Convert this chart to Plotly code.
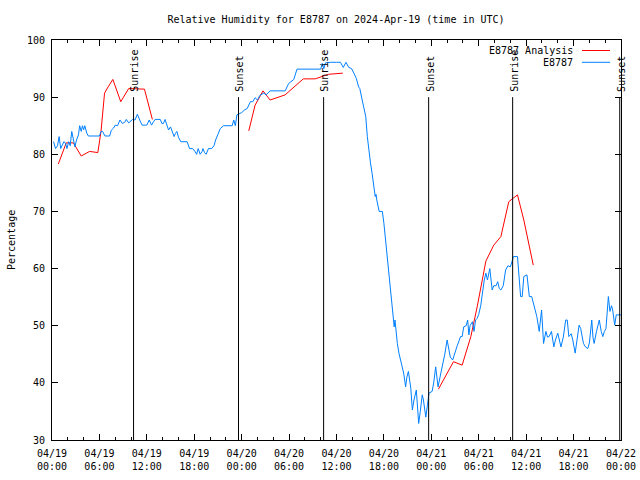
import datetime as dt
import plotly.graph_objects as go

# ---------------- data ----------------
START = dt.datetime(2024, 4, 19, 0, 0)

obs_hours = [0.2, 0.45, 0.7, 0.9, 1.1, 1.3, 1.5, 1.7, 1.9, 2.1, 2.3, 2.5, 2.7, 2.9, 3.1, 3.35, 3.5, 3.7,
             3.85, 4.0, 4.15, 4.4, 4.6, 5.0, 5.5, 6.0, 6.2, 6.4, 6.7, 7.0, 7.3, 7.5, 7.8, 8.0, 8.3, 8.6,
             8.9, 9.2, 9.4, 9.7, 9.9, 10.2, 10.5, 10.8, 11.1, 11.4, 11.8, 12.0, 12.3, 12.6, 12.8, 13.05,
             13.4, 13.7, 13.9, 14.1, 14.3, 14.5, 14.75, 15.0, 15.2, 15.45, 15.6, 15.8, 16.0, 16.3, 16.7,
             17.1, 17.4, 17.8, 18.1, 18.3, 18.5, 18.75, 19.0, 19.1, 19.3, 19.5, 19.8, 20.2, 20.5, 20.7,
             21.0, 21.3, 21.7, 22.2, 22.8, 23.0, 23.2, 23.4, 24.0, 24.4, 24.7, 25.1, 25.4, 25.7, 26.0,
             26.3, 26.8, 27.1, 27.6, 28.5, 29.5, 29.95, 30.3, 30.6, 31.0, 32.0, 33.0, 34.0, 34.2, 34.4,
             34.6, 35.2, 36.0, 36.5, 36.85, 37.2, 37.55, 37.9, 38.2, 38.5, 38.8, 38.95, 39.25, 39.5,
             39.7, 39.9, 40.1, 40.3, 40.5, 40.7, 40.8, 40.9, 41.0, 41.1, 41.4, 41.8, 42.0, 42.2, 42.4,
             42.6, 42.85, 43.05, 43.3, 43.4, 43.5, 43.7, 43.9, 44.1, 44.3, 44.5, 44.75, 44.9, 45.1,
             45.2, 45.4, 45.6, 45.8, 46.1, 46.2, 46.4, 46.6, 46.85, 47.0, 47.3, 47.5, 47.7, 48.1, 48.3,
             48.55, 48.85, 49.1, 49.4, 49.7, 50.0, 50.2, 50.4, 50.7, 51.0, 51.3, 51.7, 51.9, 52.1, 52.4,
             52.6, 52.75, 52.9, 53.2, 53.4, 53.6, 53.8, 54.0, 54.25, 54.45, 54.7, 54.9, 55.1, 55.4,
             55.7, 55.9, 56.2, 56.4, 56.6, 56.8, 57.1, 57.4, 57.7, 58.0, 58.4, 58.9, 59.1, 59.3, 59.5,
             59.7, 60.1, 60.4, 60.7, 61.0, 61.2, 61.35, 61.65, 61.95, 62.2, 62.5, 62.7, 62.9, 63.2,
             63.5, 63.7, 64.0, 64.2, 64.4, 64.7, 65.0, 65.2, 65.4, 65.7, 65.9, 66.2, 66.5, 66.7, 66.9,
             67.25, 67.5, 67.8, 68.0, 68.3, 68.45, 68.6, 68.9, 69.25, 69.5, 69.7, 69.9, 70.1, 70.4,
             70.6, 70.8, 70.95, 71.2, 71.4, 71.6, 72.0]
obs_rh = [82.2, 81.0, 81.5, 83.1, 81.0, 81.8, 82.2, 82.0, 81.0, 82.2, 81.5, 84.0, 82.5, 81.3, 82.5, 83.4,
          85.0, 84.0, 85.0, 84.3, 85.0, 83.7, 83.2, 83.2, 83.2, 83.2, 84.0, 84.0, 83.2, 83.2, 83.2, 84.2,
          84.6, 85.1, 85.0, 86.0, 85.4, 85.6, 86.1, 85.5, 85.7, 86.1, 86.0, 87.0, 86.0, 85.1, 85.1, 85.1,
          86.0, 85.1, 85.6, 86.1, 86.1, 86.1, 85.4, 85.4, 86.1, 85.2, 84.25, 84.8, 84.0, 83.1, 83.6,
          84.0, 83.0, 82.2, 82.2, 82.2, 81.0, 81.0, 80.5, 80.0, 81.0, 80.0, 80.5, 81.0, 80.3, 80.0, 81.0,
          81.0, 81.5, 82.5, 83.5, 84.5, 85.0, 85.0, 85.0, 86.0, 85.0, 86.9, 87.3, 87.8, 88.0, 89.2, 89.2,
          89.9, 89.5, 90.3, 90.7, 90.4, 91.1, 91.1, 91.1, 92.4, 92.8, 93.1, 94.9, 94.9, 94.9, 94.9, 95.9,
          95.0, 96.0, 96.1, 96.1, 96.1, 95.2, 96.1, 95.2, 95.0, 94.2, 93.3, 91.8, 91.5, 89.5, 88.0, 86.6,
          83.1, 80.2, 78.5, 76.7, 74.3, 73.0, 72.6, 73.0, 72.0, 70.0, 70.0, 67.9, 65.0, 61.5, 58.6, 55.7,
          52.2, 49.8, 51.0, 49.5, 46.9, 45.2, 44.0, 43.0, 41.7, 39.3, 41.0, 42.0, 41.0, 39.05, 35.25,
          37.0, 38.75, 36.5, 32.9, 35.0, 37.9, 37.0, 34.0, 36.0, 38.2, 38.5, 40.0, 42.8, 39.3, 41.0, 42.8,
          45.0, 47.5, 46.0, 44.5, 44.0, 45.5, 46.6, 48.1, 48.1, 49.8, 50.0, 51.0, 48.4, 50.0, 50.7, 49.0,
          51.0, 51.3, 52.0, 53.5, 55.7, 58.0, 59.2, 58.0, 60.0, 56.25, 57.0, 57.0, 57.7, 56.5, 56.25,
          57.0, 59.75, 60.5, 60.3, 62.1, 62.1, 59.0, 55.1, 55.1, 58.6, 58.9, 55.1, 55.1, 53.3, 52.0, 51.6,
          49.0, 52.75, 46.9, 49.0, 48.0, 48.1, 49.0, 46.3, 47.5, 48.7, 47.5, 46.3, 48.0, 51.0, 51.0, 48.1,
          48.6, 47.5, 45.2, 48.0, 50.1, 49.5, 46.9, 46.3, 46.0, 47.0, 51.0, 48.0, 46.9, 49.0, 51.0, 49.0,
          48.1, 49.0, 49.5, 55.1, 52.5, 53.5, 52.75, 50.1, 51.9, 51.9, 51.9]

# analysis series (None = gap between analysis runs)
ana_hours = [0.8, 1.8, 2.7, 3.7, 4.75, 5.8, 6.2, 6.65, 7.1, 7.7, 8.7, 9.7, 11.7, 12.7, None,
             24.9, 25.7, 26.7, 27.6, 29.5, 30.7, 31.8, 33.3, 35.0, 36.8, None,
             48.9, 50.8, 51.9, 53.0, 53.8, 54.9, 55.9, 56.8, 57.8, 58.9, 59.7, 60.9]
ana_rh = [78.3, 82.0, 82.0, 79.7, 80.5, 80.3, 84.0, 90.7, 91.8, 93.1, 89.2, 91.5, 91.4, 86.1, None,
          84.1, 88.6, 91.1, 89.5, 90.4, 91.8, 93.2, 93.2, 94.0, 94.2, None,
          38.9, 43.7, 43.1, 48.1, 53.3, 61.3, 64.1, 65.6, 71.7, 72.9, 68.5, 60.6]

sun_hours = [10.32, 23.6, 34.37, 47.66, 58.29, 71.84]
sun_labels = ["Sunrise", "Sunset", "Sunrise", "Sunset", "Sunrise", "Sunset"]
sun_line_top = 90

legend_names = ["E8787 Analysis", "E8787"]
colors = ["#ff0000", "#0080ff"]

title_text = "Relative Humidity for E8787 on 2024-Apr-19 (time in UTC)"
y_title = "Percentage"


def to_time(h):
    return None if h is None else START + dt.timedelta(hours=h)


FONT = "DejaVu Sans Mono"
W, H = 640, 480
ML, MR, MT, MB = 52, 19, 40, 40
PW, PH = W - ML - MR, H - MT - MB

fig = go.Figure()
fig.add_trace(go.Scatter(x=[to_time(h) for h in ana_hours], y=ana_rh, mode="lines",
                         line=dict(color=colors[0], width=1), connectgaps=False,
                         name=legend_names[0], showlegend=False))
fig.add_trace(go.Scatter(x=[to_time(h) for h in obs_hours], y=obs_rh, mode="lines",
                         line=dict(color=colors[1], width=1),
                         name=legend_names[1], showlegend=False))

for h, lab in zip(sun_hours, sun_labels):
    t = to_time(h)
    fig.add_shape(type="line", xref="x", yref="y", x0=t, x1=t, y0=30, y1=sun_line_top,
                  line=dict(color="black", width=1))
    fig.add_annotation(x=t, y=sun_line_top, xref="x", yref="y", text=lab, textangle=-90,
                       showarrow=False, xanchor="center", yanchor="bottom", yshift=3, xshift=1,
                       font=dict(family=FONT, size=10, color="black"))


def px_x(p):
    return (p - ML) / PW


def px_y(p):
    return (H - MB - p) / PH


# manual gnuplot-style legend (text right, line sample to the right)
for i, (name, c) in enumerate(zip(legend_names, colors)):
    ypix = 50.5 + i * 11.8
    fig.add_annotation(x=px_x(575), y=px_y(ypix), xref="paper", yref="paper", text=name,
                       showarrow=False, xanchor="right", yanchor="middle",
                       font=dict(family=FONT, size=10, color="black"))
    fig.add_shape(type="line", xref="paper", yref="paper", x0=px_x(582), x1=px_x(610),
                  y0=px_y(ypix), y1=px_y(ypix), line=dict(color=c, width=1))

fig.add_annotation(x=px_x(11), y=px_y(240), xref="paper", yref="paper", text=y_title,
                   textangle=-90, showarrow=False, xanchor="center", yanchor="middle",
                   font=dict(family=FONT, size=10, color="black"))

fig.update_layout(
    width=W, height=H,
    margin=dict(l=ML, r=MR, t=MT, b=MB, pad=0, autoexpand=False),
    paper_bgcolor="white", plot_bgcolor="white",
    font=dict(family=FONT, size=10, color="black"),
    title=dict(text=title_text, x=336 / W, xanchor="center", y=1 - 19 / H, yanchor="middle",
               yref="container", font=dict(family=FONT, size=10, color="black")),
    showlegend=False,
)
fig.update_xaxes(
    type="date", range=[START, START + dt.timedelta(hours=72)], automargin=False,
    tick0=START, dtick=6 * 3600 * 1000, tickformat="%m/%d<br>%H:%M",
    ticks="inside", ticklen=6, tickcolor="black", tickwidth=1,
    minor=dict(dtick=2 * 3600 * 1000, ticks="inside", ticklen=3, tickcolor="black", showgrid=False),
    showline=True, linecolor="black", linewidth=1, mirror="ticks",
    showgrid=False, zeroline=False, tickfont=dict(family=FONT, size=10, color="black"),
    ticklabelstandoff=4,
)
fig.update_yaxes(
    range=[30, 100], tick0=30, dtick=10, automargin=False,
    ticks="inside", ticklen=6, tickcolor="black", tickwidth=1,
    showline=True, linecolor="black", linewidth=1, mirror="ticks",
    showgrid=False, zeroline=False, tickfont=dict(family=FONT, size=10, color="black"),
    ticklabelstandoff=4,
)

fig.write_html(
    "out.html",
    config={"displayModeBar": False, "staticPlot": True},
    post_script=("document.body.style.margin='0';document.body.style.padding='0';"
                 "document.body.style.overflow='hidden';"
                 "document.documentElement.style.overflow='hidden';"),
)
